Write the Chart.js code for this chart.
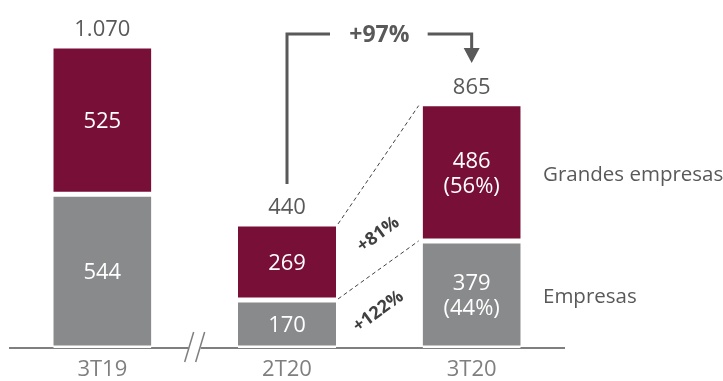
<!DOCTYPE html>
<html>
<head>
<meta charset="utf-8">
<script src="https://cdn.jsdelivr.net/npm/chart.js@4"></script>
<style>
    html, body { margin: 0; padding: 0; background: #fff; }
</style>
</head>
<body>
<canvas id="chart" width="723" height="381"></canvas>
<script>
const categories = ['3T19', '2T20', '3T20'];
const empresas = [544, 170, 379];
const grandesEmpresas = [525, 269, 486];
const totalLabels = ['1.070', '440', '865'];
const seriesNames = ['Empresas', 'Grandes empresas'];
const growthLabels = ['+122%', '+81%'];
const totalGrowth = '+97%';

const MAROON = '#780f37';
const GREY = '#898a8c';
const TEXT = '#595959';
const FAMILY = "'Open Sans', sans-serif";

function font(size, bold) {
    return (bold ? 'bold ' : '') + size + 'px ' + FAMILY;
}

const annotations = {
    id: 'annotations',
    afterDatasetsDraw(chart) {
        const ctx = chart.ctx;
        const lower = chart.getDatasetMeta(0).data;
        const upper = chart.getDatasetMeta(1).data;
        const last = categories.length - 1;
        ctx.save();
        ctx.textAlign = 'center';
        ctx.textBaseline = 'alphabetic';

        // values inside the segments
        ctx.font = font(22);
        ctx.fillStyle = '#fff';
        categories.forEach((c, i) => {
            [[lower[i], empresas[i]], [upper[i], grandesEmpresas[i]]].forEach(([bar, v]) => {
                const cy = (bar.y + bar.base) / 2;
                if (i === last) {
                    const share = Math.round(v / (empresas[i] + grandesEmpresas[i]) * 100);
                    ctx.fillText(String(v), bar.x, cy - 4.5);
                    ctx.fillText('(' + share + '%)', bar.x, cy + 21);
                } else {
                    ctx.fillText(String(v), bar.x, cy + 8);
                }
            });
        });

        // totals
        ctx.fillStyle = TEXT;
        categories.forEach((c, i) => {
            ctx.fillText(totalLabels[i], upper[i].x, upper[i].y - 10);
        });

        // series names on the right
        ctx.textAlign = 'left';
        ctx.font = font(20.5);
        ctx.fillText(seriesNames[1], 543, (upper[last].y + upper[last].base) / 2 + 9);
        ctx.fillText(seriesNames[0], 543, (lower[last].y + lower[last].base) / 2 + 9);

        // +97% bracket with arrow
        const lx = upper[1].x;
        const rx = upper[last].x;
        const topY = 34;
        ctx.strokeStyle = TEXT;
        ctx.lineWidth = 3;
        ctx.beginPath();
        ctx.moveTo(lx, upper[1].y - 40);
        ctx.lineTo(lx, topY);
        ctx.lineTo(lx + 43, topY);
        ctx.moveTo(rx - 44, topY);
        ctx.lineTo(rx, topY);
        ctx.lineTo(rx, 49);
        ctx.stroke();
        ctx.fillStyle = TEXT;
        ctx.beginPath();
        ctx.moveTo(rx - 8, 48);
        ctx.lineTo(rx + 8, 48);
        ctx.lineTo(rx, 63);
        ctx.closePath();
        ctx.fill();
        ctx.textAlign = 'center';
        ctx.textBaseline = 'middle';
        ctx.font = font(23, true);
        ctx.fillText(totalGrowth, (lx + rx) / 2, topY + 1);

        // dashed connectors 2T20 -> 3T20
        const half = (upper[1].width) / 2;
        const x1 = upper[1].x + half + 2;
        const x2 = upper[last].x - upper[last].width / 2 - 4;
        ctx.setLineDash([4, 3]);
        ctx.lineWidth = 1;
        ctx.strokeStyle = '#404040';
        ctx.beginPath();
        ctx.moveTo(x1, upper[1].y);
        ctx.lineTo(x2, upper[last].y + 2);
        ctx.moveTo(x1, upper[1].base - 1);
        ctx.lineTo(x2, upper[last].base);
        ctx.stroke();
        ctx.setLineDash([]);

        // growth labels along the lower connector
        const ang = Math.atan2(upper[last].base - upper[1].base, x2 - x1);
        const mx = (x1 + x2) / 2;
        const my = (upper[1].base + upper[last].base) / 2;
        ctx.font = font(18, true);
        ctx.fillStyle = '#404040';
        [[growthLabels[1], -36], [growthLabels[0], 41]].forEach(([t, dy]) => {
            ctx.save();
            ctx.translate(mx, my + dy);
            ctx.rotate(ang);
            ctx.fillText(t, 0, 0);
            ctx.restore();
        });

        // axis break between 3T19 and 2T20
        const bx = (lower[0].x + lower[1].x) / 2;
        const ay = chart.chartArea.bottom;
        ctx.fillStyle = '#fff';
        ctx.fillRect(bx - 6, ay - 3, 12, 6);
        ctx.strokeStyle = '#7f7f7f';
        ctx.lineWidth = 1.5;
        ctx.beginPath();
        [-5.5, 5.5].forEach(o => {
            ctx.moveTo(bx + o - 4.5, ay + 14);
            ctx.lineTo(bx + o + 4.5, ay - 16);
        });
        ctx.stroke();

        ctx.restore();
    }
};

const barStyle = {
    borderColor: '#fff',
    borderWidth: { top: 2.5, bottom: 2.5, left: 0, right: 0 },
    borderSkipped: false,
    categoryPercentage: 1,
    barPercentage: 0.531
};

new Chart(document.getElementById('chart'), {
    type: 'bar',
    data: {
        labels: categories,
        datasets: [
            Object.assign({ label: seriesNames[0], data: empresas, backgroundColor: GREY }, barStyle),
            Object.assign({ label: seriesNames[1], data: grandesEmpresas, backgroundColor: MAROON }, barStyle)
        ]
    },
    options: {
        responsive: false,
        devicePixelRatio: 1,
        animation: false,
        layout: { padding: { left: 10, right: 159, top: 9, bottom: 0 } },
        plugins: {
            legend: { display: false },
            tooltip: { enabled: false }
        },
        scales: {
            x: {
                stacked: true,
                grid: { display: false, drawTicks: false },
                border: { display: true, color: '#7f7f7f', width: 2 },
                ticks: { color: '#7f7f7f', font: { family: FAMILY, size: 22 }, padding: 9 },
                afterFit(scale) { scale.height = 33; }
            },
            y: {
                stacked: true,
                display: false,
                min: 0,
                max: 1200
            }
        }
    },
    plugins: [annotations]
});
</script>
</body>
</html>
